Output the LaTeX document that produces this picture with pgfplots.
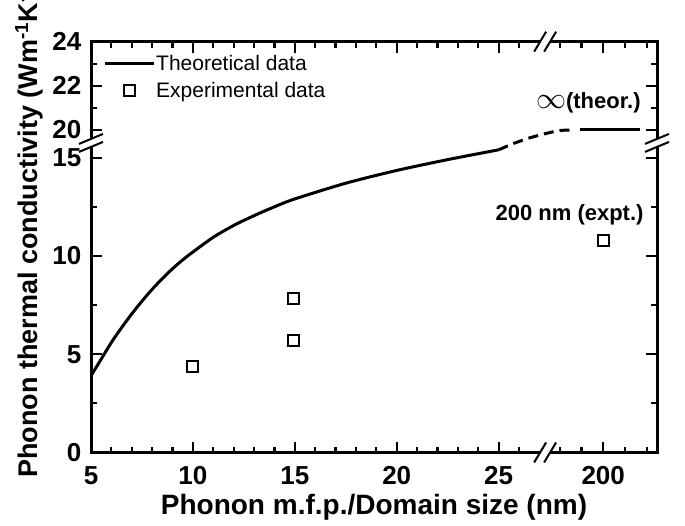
\documentclass[border=0pt]{standalone}
\usepackage{pgfplots}
\pgfplotsset{compat=1.18}
\usepackage{fontspec}
\setmainfont{Liberation Sans}
\usepackage{graphicx}
% Broken axes: plotted coordinates u (x) and v (y).
% x: u = x for 5..25 nm; 200 nm plotted at u = 30.13 (after the break)
% y: v = y for 0..15; upper part: v = 16.41 + (y-20)*1.124  (20 -> 16.41, 24 -> 20.9)
\begin{document}
\begin{tikzpicture}
\begin{axis}[
  scale only axis, width=566pt, height=410.8pt,
  xmin=5, xmax=32.77, ymin=0, ymax=20.9,
  axis line style={line width=3pt},
  tick align=inside,
  major tick length=11pt, minor tick length=6pt,
  tick style={black, line width=2.2pt},
  /pgf/number format/assume math mode=true,
  xtick={5,10,15,20,25,30.13}, xticklabels={5,10,15,20,25,200},
  minor xtick={6,7,8,9,11,12,13,14,16,17,18,19,21,22,23,24,26,28.0,29.07,31.2,32.26},
  ytick={0,5,10,15,16.41,18.66,20.9}, yticklabels={0,5,10,15,20,22,24},
  minor ytick={2.5,7.5,12.5,17.53,19.78},
  xticklabel style={font=\bfseries\fontsize{26}{26}\selectfont, inner sep=0pt, yshift=-14pt},
  yticklabel style={font=\bfseries\fontsize{26}{26}\selectfont, inner sep=0pt, xshift=-9.5pt},
  legend style={at={(0,1)}, anchor=north west, xshift=12pt, yshift=-12pt, draw=none, fill=none,
    font=\fontsize{21}{21}\selectfont, row sep=9pt, inner sep=0pt,
    nodes={inner sep=1pt},
    /tikz/every even column/.append style={column sep=11pt}},
  legend cell align=left,
  legend image code/.code={\draw[mark repeat=2,mark phase=2,#1] plot coordinates {(0pt,0pt) (24.5pt,0pt) (49pt,0pt)};},
]
\addplot[black, line width=3pt, smooth, no marks] coordinates {
 (5,3.9) (5.5,4.75) (6,5.6) (6.5,6.35) (7,7.05) (7.5,7.7) (8,8.3) (8.5,8.85) (9,9.35)
 (9.5,9.8) (10,10.2) (11,10.95) (12,11.55) (13,12.05) (14,12.5) (15,12.9)
 (17.5,13.7) (20,14.35) (22.5,14.9) (25,15.4)};
\addlegendentry{Theoretical data}
\addplot[black, line width=3pt, smooth, dash pattern=on 10pt off 6pt, forget plot] coordinates {
 (25,15.4) (25.73,15.72) (26.5,16.0) (27.36,16.24) (28.0,16.38) (28.7,16.41)};
\addplot[black, line width=3pt, forget plot] coordinates {(29.0,16.41) (31.94,16.41)};
\addplot[black, only marks, mark=square, mark size=5.5pt, mark options={solid, line width=2pt}] coordinates {
 (9.96,4.37) (14.94,7.81) (14.94,5.69) (30.13,10.78)};
\addlegendentry{Experimental data}
\node[font=\bfseries\fontsize{22}{22}\selectfont, inner sep=0pt] at (axis cs:28.48,12.08) {200 nm (expt.)};
\node[font=\bfseries\fontsize{22}{22}\selectfont, inner sep=0pt] at (axis cs:29.4,17.77) {\scalebox{1.45}{$\infty$}(theor.)};
\coordinate (xb1) at (axis cs:27.28,0);
\coordinate (xb2) at (axis cs:27.28,20.9);
\coordinate (yb1) at (axis cs:5,15.75);
\coordinate (yb2) at (axis cs:32.77,15.75);
\end{axis}
\foreach \c in {xb1,xb2} {
  \fill[white] ([shift={(-5pt,-2.6pt)}]\c) rectangle ([shift={(5pt,2.6pt)}]\c);
  \draw[line width=2pt] ([shift={(-11pt,-10pt)}]\c) -- ([shift={(1pt,10pt)}]\c);
  \draw[line width=2pt] ([shift={(-1pt,-10pt)}]\c) -- ([shift={(11pt,10pt)}]\c);
}
\foreach \c in {yb1,yb2} {
  \fill[white] ([shift={(-2.6pt,-4pt)}]\c) rectangle ([shift={(2.6pt,4pt)}]\c);
  \draw[line width=2pt] ([shift={(-12pt,-9pt)}]\c) -- ([shift={(12pt,1pt)}]\c);
  \draw[line width=2pt] ([shift={(-12pt,-1pt)}]\c) -- ([shift={(12pt,9pt)}]\c);
}
\node[font=\bfseries\fontsize{28}{28}\selectfont, inner sep=0pt, anchor=base] at ([shift={(283pt,-61.5pt)}]current axis.south west) {Phonon m.f.p./Domain size (nm)};
\node[rotate=90, anchor=west, font=\bfseries\fontsize{27}{27}\selectfont, inner sep=0pt] at ([shift={(-62pt,-25.5pt)}]current axis.south west) {Phonon thermal conductivity (Wm\textsuperscript{-1}K\textsuperscript{-1})};
\pgfresetboundingbox
\path[use as bounding box] ([shift={(-91pt,-72.5pt)}]current axis.south west) rectangle ([shift={(594pt,452.5pt)}]current axis.south west);
\end{tikzpicture}
\end{document}
